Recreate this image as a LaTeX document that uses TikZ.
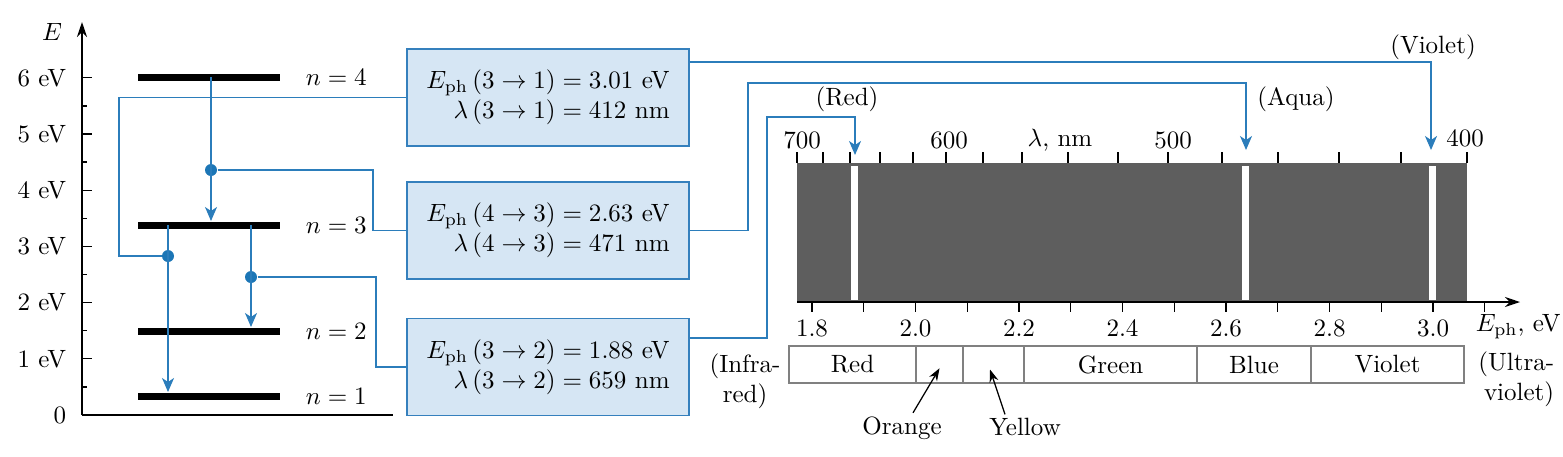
\documentclass[tikz,border=0pt]{standalone}
\usepackage{amsmath}
\usetikzlibrary{arrows.meta}

\definecolor{boxblue}{HTML}{D6E6F4}
\definecolor{edgeblue}{HTML}{3580BD}
\definecolor{lineblue}{HTML}{2B7DBB}
\definecolor{dotblue}{HTML}{1C76B6}
\definecolor{specgray}{HTML}{5E5E5E}

\begin{document}
\begin{tikzpicture}[x=0.4pt,y=-0.4pt,
  level/.style={fill=black,inner sep=0pt,minimum width=56.8pt,minimum height=2.8pt},
  dot/.style={circle,fill=dotblue,inner sep=0pt,minimum size=4.8pt},
  link/.style={draw=lineblue,line width=0.6pt},
  beam/.style={link,-{Stealth[length=5.6pt,width=4.8pt,inset=1.6pt]}},
  info/.style={draw=edgeblue,fill=boxblue,line width=0.6pt,minimum width=112.8pt,minimum height=38.8pt,align=right},
  cell/.style={draw=gray,line width=0.5pt,minimum height=14.8pt,inner sep=0pt},
  pointer/.style={line width=0.5pt,-{Stealth[length=5pt,width=3.6pt]}}]
\useasboundingbox (0,0) rectangle (1563,456);

\draw[line width=0.6pt,-{Stealth[length=6pt,width=4pt]}] (82,415) -- (82,22);
\draw[line width=0.6pt] (82,415) -- (393,415);
\node at (52,32) {$E$};
\foreach \v in {0,...,6} \draw[line width=0.5pt] (82,{415-56.2*\v}) -- (92,{415-56.2*\v});
\foreach \v in {0,...,5} \draw[line width=0.5pt] (82,{415-56.2*(\v+0.5)}) -- (87,{415-56.2*(\v+0.5)});
\foreach \v in {1,...,6} \node[anchor=east] at (75,{415-56.2*\v}) {\v~eV};
\node[anchor=east] at (75,415) {0};

\node[level] (n4) at (209,77) {};
\node[level] (n3) at (209,225) {};
\node[level] (n2) at (209,331) {};
\node[level] (n1) at (209,396) {};
\node[anchor=west] (l4) at (297,77) {$n=4$};
\node[anchor=west] (l3) at (297,225) {$n=3$};
\node[anchor=west] (l2) at (297,331) {$n=2$};
\node[anchor=west] (l1) at (297,396) {$n=1$};

\node[dot] (d43) at (211,170) {};
\node[dot] (d31) at (168,256) {};
\node[dot] (d32) at (251,277) {};
\draw[beam] (d43 |- n4) -- (d43 |- n3.north);
\draw[beam] (d31 |- n3) -- (d31 |- n1.north);
\draw[beam] (d32 |- n3) -- (d32 |- n2.north);

\node[info] (b1) at (548,97.5) {$E_{\mathrm{ph}}\,(3\to1) = 3.01$~eV\\ $\lambda\,(3\to1) = 412$~nm};
\node[info] (b2) at (548,230.5) {$E_{\mathrm{ph}}\,(4\to3) = 2.63$~eV\\ $\lambda\,(4\to3) = 471$~nm};
\node[info] (b3) at (548,367) {$E_{\mathrm{ph}}\,(3\to2) = 1.88$~eV\\ $\lambda\,(3\to2) = 659$~nm};

\coordinate (k1) at (119,200);
\coordinate (k2) at (373,200);
\coordinate (k3) at (376,300);
\draw[link] (d31) -| (k1) |- (b1.west);
\draw[link] (d43) -| (k2) |- (b2.west);
\draw[link] (d32) -| (k3) |- (b3.west);

\fill[specgray] (797,163) rectangle (1467,302);
\foreach \x in {851,1242,1429} \fill[white] (\x,166) rectangle ({\x+7},300);
\foreach \x in {797,823,850,880,913,946,983,1022,1068,1118,1168,1222,1278,1339,1401,1467}
  \draw[line width=0.5pt] (\x,152) -- (\x,163);
\node at (802,140) {700};
\node at (949,140) {600};
\node at (1060,140) {$\lambda$, nm};
\node at (1173,140) {500};
\node at (1465,138) {400};

\coordinate (k4) at (748,83);
\coordinate (k5) at (767,117);
\coordinate (tv) at (1431,150);
\coordinate (ta) at (1246,150);
\coordinate (tr) at (855,155);
\draw[beam] ([yshift=14.2pt]b1.east) -| (tv);
\draw[beam] (b2.east) -| (k4) -| (ta);
\draw[beam] ([yshift=11.6pt]b3.east) -| (k5) -| (tr);
\node (lr) at (847,99) {(Red)};
\node (la) at (1296,99) {(Aqua)};
\node (lv) at (1433,47) {(Violet)};

\draw[line width=0.6pt,-{Stealth[length=6pt,width=4pt]}] (797,302) -- (1520,302);
\foreach \i in {0,...,13} \draw[line width=0.5pt] ({812+51.75*\i},302) -- ({812+51.75*\i},312);
\foreach \v [count=\i from 0] in {1.8,2.0,2.2,2.4,2.6,2.8,3.0}
  \node at ({812+103.5*\i},328) {\v};
\node[anchor=west] at (1467,327) {$E_{\mathrm{ph}}$, eV};

\foreach \l/\r/\t [count=\i] in {789/916/Red,916/963/{},963/1024/{},1024/1197/Green,1197/1311/Blue,1311/1464/Violet}
  \node[cell,minimum width={(\r-\l)*0.4pt}] (c\i) at ({(\l+\r)/2},364.5) {\t};
\node[align=center] (ir) at (745,381) {(Infra-\\red)};
\node[align=right,anchor=east] (uv) at (1563,379) {(Ultra-\\violet)};

\node (org) at (902,428) {Orange};
\node (yel) at (1025,427) {Yellow};
\draw[pointer] ([xshift=4.4pt,yshift=-2pt]org.north) -- ([yshift=-1.5pt]c2.center);
\draw[pointer] ([xshift=-8pt,yshift=-2pt]yel.north) -- ([xshift=-1.4pt,yshift=-2pt]c3.center);
\end{tikzpicture}
\end{document}
